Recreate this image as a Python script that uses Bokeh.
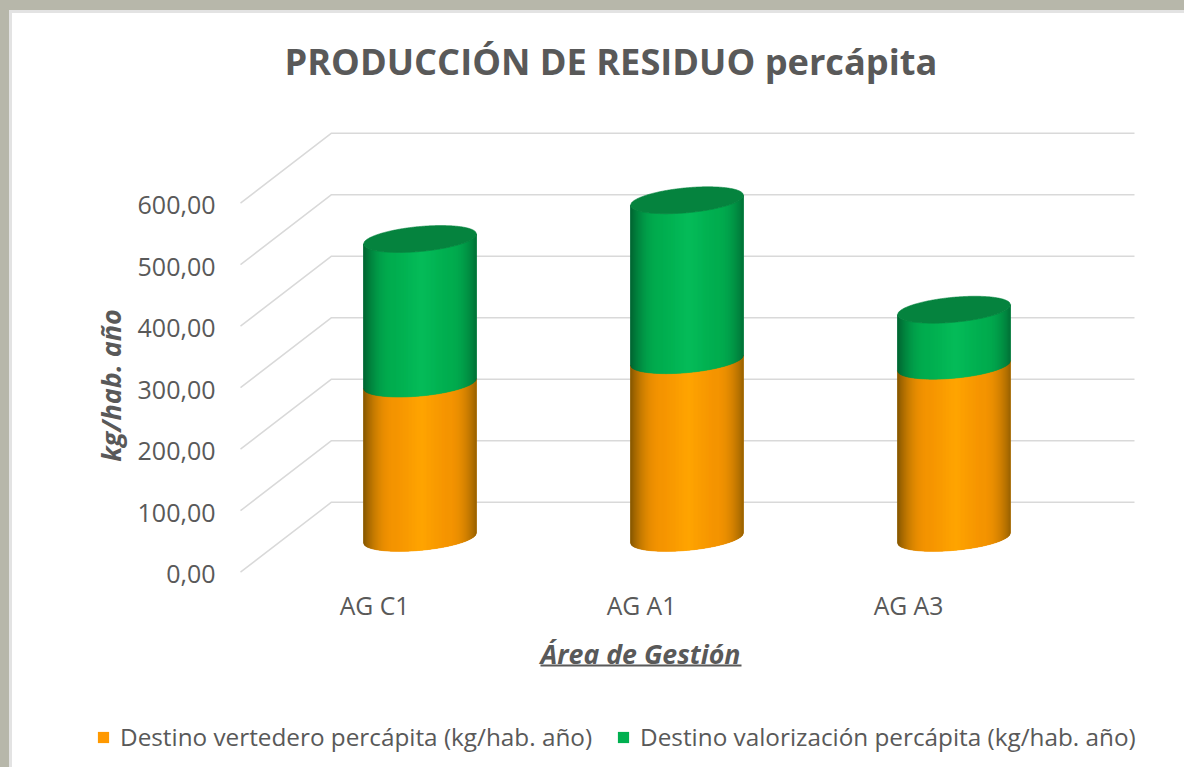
import math
from bokeh.plotting import figure
from bokeh.embed import file_html
from bokeh.resources import INLINE
from bokeh.models import (Range1d, LinearAxis, FixedTicker, Legend, LegendItem,
                          BoxAnnotation, Title, Label)

categories = ["AG C1", "AG A1", "AG A3"]
vertedero = [251, 289, 280]
valorizacion = [235, 260, 91]
y_ticks = [0, 100, 200, 300, 400, 500, 600]
y_tick_labels = ["0,00", "100,00", "200,00", "300,00", "400,00", "500,00", "600,00"]
title_text = "PRODUCCIÓN DE RESIDUO percápita"
x_title = "Área de Gestión"
y_title = "kg/hab. año"
name_a = "Destino vertedero percápita (kg/hab. año)"
name_b = "Destino valorización percápita (kg/hab. año)"

# geometry
W, H, FRAME_TOP = 1184, 767, 100
AXIS_X, AXIS_Y, GRID_END = 240, 573.5, 1134
PX_PER_CAT, PX_PER_VAL = 267.0, 0.615
BAR_X, BAR_BASE, LABEL_X = 419.5, 537.4, 374.0
GRID_SHIFT = 0.7 / PX_PER_VAL
HALF_W = 56.5 / PX_PER_CAT
TILT, BULGE = 5 / PX_PER_VAL, 12.5 / PX_PER_VAL
DEPTH_X, DEPTH_Y = 91 / PX_PER_CAT, 70 / PX_PER_VAL
TEXT = "#595959"
FONT = "Open Sans"

p = figure(width=W, height=H, output_backend="svg", toolbar_location=None,
           x_range=Range1d((0 - BAR_X) / PX_PER_CAT, (W - BAR_X) / PX_PER_CAT),
           y_range=Range1d((BAR_BASE - H) / PX_PER_VAL, (BAR_BASE - FRAME_TOP) / PX_PER_VAL),
           min_border_left=0, min_border_right=0, min_border_top=FRAME_TOP, min_border_bottom=0,
           x_axis_location=None, y_axis_location=None,
           border_fill_color=None, background_fill_color=None,
           outline_line_color=None)
p.grid.visible = False
p.styles = {"box-shadow": "inset 9px 10px 0 0 #b7b7aa, inset 12px 13px 0 0 #e3e3e3"}

p.extra_y_ranges["front"] = Range1d((AXIS_Y - H) / PX_PER_VAL, (AXIS_Y - FRAME_TOP) / PX_PER_VAL)
p.extra_x_ranges["front"] = Range1d((0 - LABEL_X) / PX_PER_CAT, (W - LABEL_X) / PX_PER_CAT)

# walls: front edge -> back corner -> right end
x_s = (AXIS_X - BAR_X) / PX_PER_CAT
x_e = (GRID_END - BAR_X) / PX_PER_CAT
grid_xs = [[x_s, x_s + DEPTH_X, x_e] for _ in y_ticks]
grid_ys = [[v + GRID_SHIFT - DEPTH_Y / 2, v + GRID_SHIFT + DEPTH_Y / 2, v + GRID_SHIFT + DEPTH_Y / 2]
           for v in y_ticks]
p.multi_line(grid_xs, grid_ys, line_color="#d9d9d9", line_width=1.5)


def shade(rgb_edge, rgb_mid, rgb_high, u):
    a = abs(u - 0.03)
    if a < 0.45:
        t = a / 0.45
        c0, c1 = rgb_high, rgb_mid
    else:
        t = ((a - 0.45) / 0.55) ** 2.2
        c0, c1 = rgb_mid, rgb_edge
    return "#%02x%02x%02x" % tuple(int(c0[i] + (c1[i] - c0[i]) * t) for i in range(3))


def lower(v, u):
    return v + TILT * u - BULGE * math.sqrt(max(0, 1 - u * u))


def upper(v, u):
    return v + TILT * u + BULGE * math.sqrt(max(0, 1 - u * u))


N = 113
us = [-1 + 2 * i / N for i in range(N + 1)]
ORANGE = ((0x8a, 0x5a, 0x00), (0xf5, 0x94, 0x00), (0xff, 0xa5, 0x00))
GREEN = ((0x00, 0x68, 0x33), (0x00, 0xae, 0x50), (0x06, 0xbd, 0x5a))


def body(cx, lo, hi, palette):
    xs, ys, cols = [], [], []
    for i in range(N):
        u0, u1 = us[i], us[i + 1]
        xs.append([cx + HALF_W * u0, cx + HALF_W * u1, cx + HALF_W * u1, cx + HALF_W * u0])
        ys.append([lower(lo, u0), lower(lo, u1), lower(hi, u1), lower(hi, u0)])
        cols.append(shade(*palette, (u0 + u1) / 2))
    return xs, ys, cols


def silhouette(cx, lo, hi):
    return ([cx + HALF_W * u for u in us] + [cx + HALF_W * u for u in reversed(us)],
            [lower(lo, u) for u in us] + [lower(hi, u) for u in reversed(us)])


sil_a, sil_b = ([], []), ([], [])
sl_x, sl_y, sl_c = [], [], []
cap_x, cap_y = [], []
for i, (a, b) in enumerate(zip(vertedero, valorizacion)):
    sx, sy = silhouette(i, 0, a)
    sil_a[0].append(sx); sil_a[1].append(sy)
    sx, sy = silhouette(i, a, a + b)
    sil_b[0].append(sx); sil_b[1].append(sy)
    for lo, hi, pal in ((0, a, ORANGE), (a, a + b, GREEN)):
        xs, ys, cs = body(i, lo, hi, pal)
        sl_x += xs; sl_y += ys; sl_c += cs
    top = a + b
    cap_x.append([i + HALF_W * u for u in us] + [i + HALF_W * u for u in reversed(us)])
    cap_y.append([lower(top, u) for u in us] + [upper(top, u) for u in reversed(us)])

r_a = p.patches(sil_a[0], sil_a[1], fill_color="#ff9900", line_color=None)
r_b = p.patches(sil_b[0], sil_b[1], fill_color="#00b050", line_color=None)
p.patches(sl_x, sl_y, fill_color=sl_c, line_color=sl_c, line_width=0.6)
p.patches(cap_x, cap_y, fill_color="#05833e", line_color="#05833e", line_width=0.6)

# axes, pinned inside the frame at the front edge of the floor
y_ax = LinearAxis(y_range_name="front", ticker=FixedTicker(ticks=y_ticks),
                  fixed_location=x_s,
                  major_label_overrides=dict(zip(y_ticks, y_tick_labels)),
                  axis_line_color=None, major_tick_line_color=None, minor_tick_line_color=None,
                  major_tick_in=0, major_tick_out=0, major_label_standoff=25,
                  major_label_text_font=FONT, major_label_text_font_size="25px",
                  major_label_text_color=TEXT)
p.add_layout(y_ax, "left")

x_ticks = list(range(len(categories)))
x_ax = LinearAxis(x_range_name="front", ticker=FixedTicker(ticks=x_ticks),
                  fixed_location=(BAR_BASE - 572) / PX_PER_VAL,
                  major_label_overrides=dict(zip(x_ticks, categories)),
                  axis_line_color=None, major_tick_line_color=None, minor_tick_line_color=None,
                  major_tick_in=0, major_tick_out=0, major_label_standoff=16,
                  major_label_text_font=FONT, major_label_text_font_size="24.7px",
                  major_label_text_color=TEXT)
p.add_layout(x_ax, "below")

p.add_layout(Label(x=640, y=653, x_units="canvas", y_units="canvas", text=x_title,
                   text_font=FONT, text_font_size="26.7px", text_font_style="bold italic",
                   text_color=TEXT, text_align="center", text_baseline="middle"))
p.add_layout(Label(x=110, y=385, x_units="canvas", y_units="canvas", text=y_title,
                   angle=math.pi / 2, text_font=FONT, text_font_size="27px",
                   text_font_style="bold italic", text_color=TEXT,
                   text_align="center", text_baseline="middle"))

legend = Legend(items=[LegendItem(label=name_a, renderers=[r_a]),
                       LegendItem(label=name_b, renderers=[r_b])],
                orientation="horizontal", location=(96, 14),
                border_line_color=None, background_fill_color=None,
                label_text_font=FONT, label_text_font_size="24.3px", label_text_color=TEXT,
                glyph_width=14, glyph_height=14, label_standoff=10, spacing=24, margin=8)
p.add_layout(legend)

p.add_layout(Title(text=title_text, text_font=FONT, text_font_size="36.2px",
                   text_font_style="bold", text_color=TEXT, align="left",
                   offset=284, standoff=30), "above")

p.add_layout(BoxAnnotation(left=540, right=741, top=664, bottom=666,
                           left_units="canvas", right_units="canvas",
                           top_units="canvas", bottom_units="canvas",
                           fill_color=TEXT, fill_alpha=1, line_color=None))

open("out.html", "w").write(file_html(p, INLINE))
